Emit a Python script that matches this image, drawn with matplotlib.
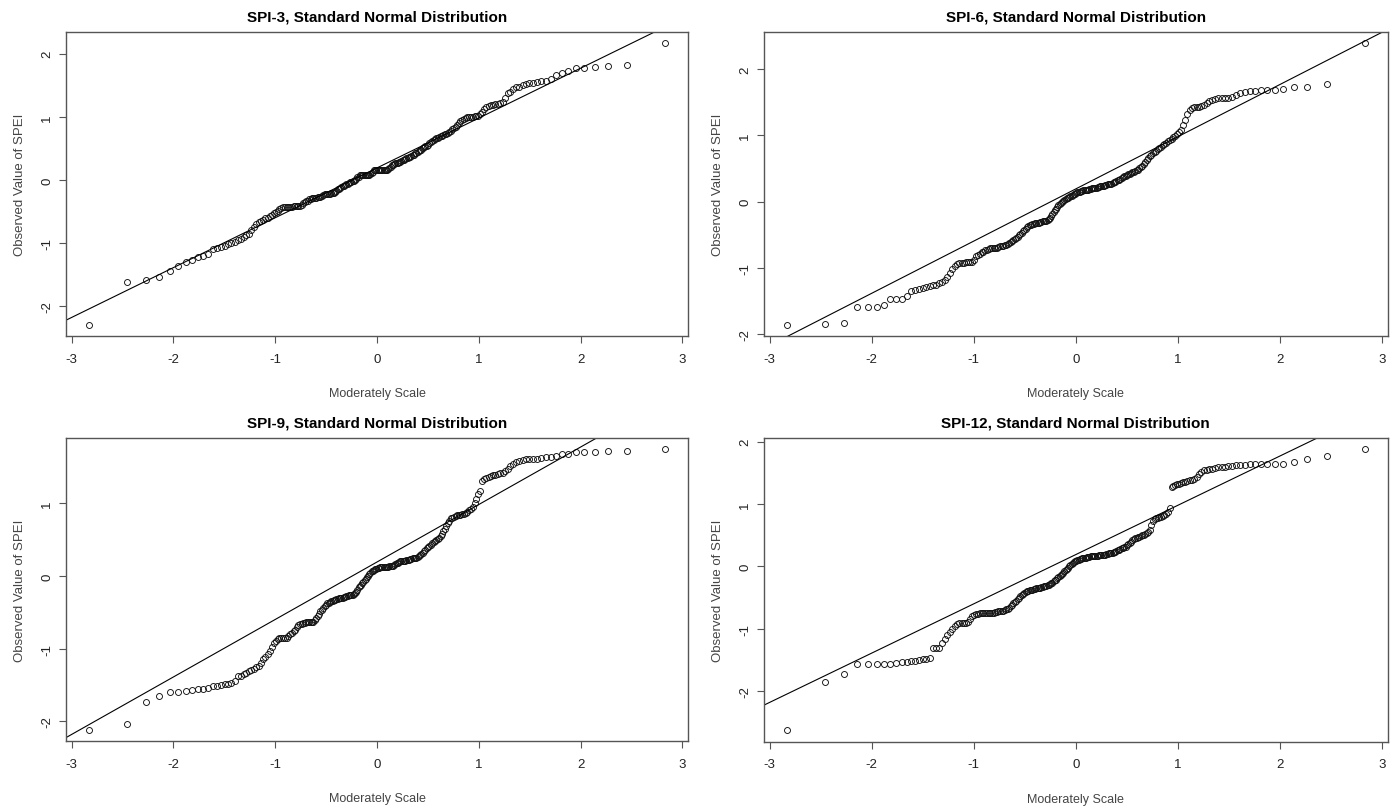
import matplotlib
matplotlib.use("Agg")
import matplotlib.pyplot as plt
import numpy as np
from statistics import NormalDist
import math

titles = ["SPI-3, Standard Normal Distribution", "SPI-6, Standard Normal Distribution",
          "SPI-9, Standard Normal Distribution", "SPI-12, Standard Normal Distribution"]
x_label = "Moderately Scale"
y_label = "Observed Value of SPEI"
x_ticks = [-3, -2, -1, 0, 1, 2, 3]

spi3 = [
    -2.30, -1.62, -1.59, -1.54, -1.45, -1.36, -1.30, -1.27, -1.22, -1.20,
    -1.17, -1.09, -1.08, -1.06, -1.04, -1.02, -1.00, -0.98, -0.96, -0.93,
    -0.90, -0.87, -0.85, -0.80, -0.74, -0.70, -0.67, -0.65, -0.63, -0.61,
    -0.60, -0.58, -0.55, -0.53, -0.51, -0.49, -0.46, -0.44, -0.43, -0.43,
    -0.43, -0.43, -0.43, -0.43, -0.42, -0.42, -0.42, -0.42, -0.42, -0.40,
    -0.37, -0.35, -0.34, -0.33, -0.31, -0.30, -0.29, -0.28, -0.28, -0.28,
    -0.27, -0.27, -0.27, -0.26, -0.24, -0.23, -0.22, -0.22, -0.22, -0.22,
    -0.21, -0.21, -0.20, -0.19, -0.17, -0.15, -0.14, -0.13, -0.12, -0.10,
    -0.09, -0.08, -0.07, -0.06, -0.05, -0.04, -0.03, -0.02, -0.01, 0.00,
    0.02, 0.04, 0.05, 0.07, 0.08, 0.08, 0.08, 0.08, 0.08, 0.08,
    0.08, 0.08, 0.09, 0.11, 0.13, 0.15, 0.15, 0.15, 0.15, 0.15,
    0.15, 0.15, 0.16, 0.16, 0.16, 0.16, 0.16, 0.17, 0.19, 0.21,
    0.23, 0.24, 0.25, 0.26, 0.27, 0.27, 0.28, 0.29, 0.30, 0.31,
    0.32, 0.33, 0.34, 0.35, 0.36, 0.37, 0.38, 0.39, 0.40, 0.42,
    0.43, 0.44, 0.46, 0.47, 0.48, 0.50, 0.52, 0.53, 0.54, 0.56,
    0.58, 0.60, 0.62, 0.63, 0.65, 0.66, 0.67, 0.68, 0.69, 0.70,
    0.71, 0.72, 0.73, 0.74, 0.76, 0.78, 0.80, 0.82, 0.84, 0.87,
    0.90, 0.93, 0.95, 0.97, 0.98, 0.99, 0.99, 1.00, 1.00, 1.01,
    1.01, 1.02, 1.04, 1.08, 1.13, 1.15, 1.17, 1.18, 1.19, 1.20,
    1.21, 1.22, 1.24, 1.30, 1.37, 1.40, 1.44, 1.47, 1.48, 1.50,
    1.52, 1.53, 1.54, 1.55, 1.56, 1.57, 1.60, 1.66, 1.70, 1.73,
    1.77, 1.77, 1.79, 1.80, 1.82, 2.17,
]

spi6 = [
    -1.87, -1.85, -1.84, -1.59, -1.59, -1.59, -1.57, -1.48, -1.47, -1.47,
    -1.43, -1.35, -1.34, -1.33, -1.31, -1.29, -1.28, -1.27, -1.26, -1.24,
    -1.22, -1.19, -1.14, -1.08, -1.02, -0.98, -0.94, -0.93, -0.93, -0.93,
    -0.92, -0.92, -0.92, -0.91, -0.88, -0.83, -0.81, -0.79, -0.77, -0.76,
    -0.74, -0.73, -0.72, -0.71, -0.71, -0.71, -0.70, -0.70, -0.69, -0.68,
    -0.68, -0.67, -0.66, -0.66, -0.65, -0.63, -0.62, -0.60, -0.59, -0.57,
    -0.55, -0.53, -0.51, -0.49, -0.47, -0.45, -0.43, -0.41, -0.39, -0.37,
    -0.36, -0.35, -0.34, -0.34, -0.33, -0.33, -0.32, -0.32, -0.31, -0.31,
    -0.30, -0.30, -0.30, -0.29, -0.28, -0.27, -0.25, -0.22, -0.19, -0.16,
    -0.13, -0.11, -0.09, -0.06, -0.04, -0.02, 0.00, 0.01, 0.03, 0.04,
    0.05, 0.06, 0.07, 0.08, 0.09, 0.10, 0.11, 0.12, 0.13, 0.14,
    0.15, 0.15, 0.16, 0.16, 0.17, 0.17, 0.18, 0.18, 0.18, 0.19,
    0.19, 0.20, 0.20, 0.20, 0.21, 0.21, 0.22, 0.22, 0.23, 0.23,
    0.24, 0.24, 0.25, 0.25, 0.26, 0.26, 0.27, 0.27, 0.28, 0.29,
    0.30, 0.31, 0.32, 0.33, 0.34, 0.36, 0.37, 0.38, 0.39, 0.40,
    0.41, 0.42, 0.43, 0.44, 0.45, 0.46, 0.47, 0.48, 0.50, 0.52,
    0.54, 0.57, 0.60, 0.63, 0.66, 0.69, 0.71, 0.73, 0.75, 0.77,
    0.79, 0.81, 0.83, 0.85, 0.87, 0.89, 0.91, 0.93, 0.95, 0.97,
    0.99, 1.02, 1.05, 1.09, 1.16, 1.24, 1.32, 1.38, 1.42, 1.43,
    1.43, 1.43, 1.44, 1.46, 1.49, 1.52, 1.54, 1.55, 1.56, 1.56,
    1.57, 1.57, 1.58, 1.61, 1.64, 1.66, 1.67, 1.68, 1.69, 1.69,
    1.69, 1.70, 1.73, 1.74, 1.78, 2.40,
]

spi9 = [
    -2.12, -2.04, -1.74, -1.65, -1.60, -1.59, -1.58, -1.57, -1.56, -1.55,
    -1.54, -1.52, -1.51, -1.50, -1.49, -1.48, -1.47, -1.45, -1.38, -1.37,
    -1.35, -1.33, -1.31, -1.30, -1.28, -1.26, -1.24, -1.20, -1.15, -1.11,
    -1.07, -1.03, -0.98, -0.93, -0.89, -0.87, -0.86, -0.86, -0.86, -0.86,
    -0.85, -0.83, -0.80, -0.78, -0.76, -0.74, -0.70, -0.67, -0.66, -0.66,
    -0.65, -0.65, -0.64, -0.64, -0.64, -0.64, -0.64, -0.63, -0.61, -0.58,
    -0.55, -0.52, -0.49, -0.47, -0.44, -0.42, -0.40, -0.38, -0.37, -0.36,
    -0.35, -0.34, -0.33, -0.33, -0.32, -0.32, -0.31, -0.31, -0.30, -0.30,
    -0.29, -0.29, -0.28, -0.28, -0.27, -0.27, -0.26, -0.26, -0.25, -0.24,
    -0.22, -0.19, -0.16, -0.14, -0.12, -0.10, -0.08, -0.06, -0.04, -0.02,
    0.00, 0.02, 0.04, 0.06, 0.07, 0.08, 0.09, 0.10, 0.11, 0.11,
    0.12, 0.12, 0.12, 0.12, 0.12, 0.12, 0.12, 0.12, 0.13, 0.13,
    0.13, 0.14, 0.15, 0.16, 0.17, 0.18, 0.19, 0.20, 0.20, 0.21,
    0.21, 0.21, 0.22, 0.22, 0.22, 0.23, 0.23, 0.24, 0.24, 0.25,
    0.25, 0.26, 0.27, 0.28, 0.30, 0.32, 0.34, 0.36, 0.38, 0.39,
    0.41, 0.43, 0.45, 0.47, 0.48, 0.49, 0.50, 0.52, 0.55, 0.58,
    0.61, 0.64, 0.68, 0.72, 0.76, 0.79, 0.80, 0.81, 0.82, 0.83,
    0.84, 0.84, 0.85, 0.85, 0.86, 0.88, 0.90, 0.92, 0.95, 1.00,
    1.06, 1.12, 1.16, 1.31, 1.33, 1.35, 1.36, 1.37, 1.38, 1.39,
    1.40, 1.41, 1.42, 1.44, 1.47, 1.51, 1.54, 1.56, 1.58, 1.59,
    1.60, 1.60, 1.61, 1.61, 1.62, 1.63, 1.64, 1.65, 1.67, 1.68,
    1.70, 1.70, 1.70, 1.71, 1.71, 1.74,
]

spi12 = [
    -2.63, -1.86, -1.73, -1.57, -1.57, -1.57, -1.57, -1.57, -1.55, -1.54,
    -1.53, -1.52, -1.51, -1.50, -1.49, -1.48, -1.46, -1.31, -1.31, -1.30,
    -1.23, -1.17, -1.10, -1.05, -1.00, -0.95, -0.92, -0.91, -0.91, -0.91,
    -0.90, -0.89, -0.85, -0.80, -0.78, -0.76, -0.76, -0.75, -0.75, -0.75,
    -0.75, -0.74, -0.74, -0.74, -0.74, -0.74, -0.73, -0.73, -0.72, -0.72,
    -0.71, -0.71, -0.70, -0.69, -0.68, -0.66, -0.63, -0.61, -0.59, -0.57,
    -0.55, -0.52, -0.50, -0.48, -0.46, -0.44, -0.42, -0.41, -0.40, -0.39,
    -0.38, -0.37, -0.37, -0.36, -0.36, -0.35, -0.35, -0.34, -0.34, -0.33,
    -0.33, -0.32, -0.32, -0.31, -0.30, -0.29, -0.28, -0.27, -0.26, -0.24,
    -0.22, -0.21, -0.19, -0.17, -0.16, -0.14, -0.12, -0.10, -0.08, -0.06,
    -0.04, -0.02, 0.00, 0.02, 0.04, 0.06, 0.07, 0.08, 0.09, 0.10,
    0.11, 0.12, 0.12, 0.13, 0.13, 0.14, 0.14, 0.15, 0.15, 0.15,
    0.16, 0.16, 0.16, 0.17, 0.17, 0.17, 0.17, 0.18, 0.18, 0.18,
    0.19, 0.19, 0.19, 0.20, 0.20, 0.21, 0.21, 0.22, 0.22, 0.23,
    0.24, 0.25, 0.26, 0.27, 0.28, 0.29, 0.30, 0.31, 0.32, 0.34,
    0.36, 0.38, 0.40, 0.42, 0.44, 0.45, 0.46, 0.47, 0.48, 0.49,
    0.50, 0.51, 0.52, 0.53, 0.55, 0.58, 0.66, 0.73, 0.76, 0.77,
    0.78, 0.79, 0.80, 0.81, 0.82, 0.84, 0.88, 0.93, 1.27, 1.29,
    1.31, 1.32, 1.33, 1.34, 1.35, 1.36, 1.37, 1.38, 1.39, 1.41,
    1.44, 1.48, 1.52, 1.54, 1.55, 1.56, 1.57, 1.58, 1.59, 1.60,
    1.60, 1.61, 1.61, 1.62, 1.63, 1.63, 1.64, 1.64, 1.64, 1.64,
    1.64, 1.65, 1.68, 1.72, 1.77, 1.88,
]

# reference line drawn in every panel (same line in all four)
ref_intercept = 0.19
ref_slope = 0.79

series = [spi3, spi6, spi9, spi12]

# ---------------- style ----------------
plt.rcParams["font.family"] = ["Liberation Sans Narrow", "Liberation Sans", "DejaVu Sans"]
W, H = 1392, 812
fig = plt.figure(figsize=(W / 100, H / 100), dpi=100)
fig.patch.set_facecolor("white")

# axes boxes in pixels: left, top, right, bottom
boxes = [(65.7, 32.7, 688.3, 337.3), (763.7, 32.7, 1387.7, 337.3),
         (65.7, 439.0, 688.3, 742.3), (763.7, 439.0, 1387.7, 742.7)]

text_col = "#222222"
label_col = "#444444"
frame_col = "#555555"


def ppoints_theoretical(n):
    a = 0.375 if n <= 10 else 0.5
    nd = NormalDist()
    return np.array([nd.inv_cdf((i + 1 - a) / (n + 1 - 2 * a)) for i in range(n)])


def r_range(lo, hi):
    span = hi - lo
    return lo - 0.04 * span, hi + 0.04 * span


for vals, title, (l, t, r, b) in zip(series, titles, boxes):
    ax = fig.add_axes([l / W, 1 - b / H, (r - l) / W, (b - t) / H])
    y = np.sort(np.asarray(vals, dtype=float))
    x = ppoints_theoretical(len(y))
    ax.plot(x, y, linestyle="none", marker="o", markersize=4.3,
            markerfacecolor="none", markeredgecolor="#111111", markeredgewidth=0.65)
    xlo, xhi = r_range(x.min(), x.max())
    ylo, yhi = r_range(y.min(), y.max())
    ax.set_xlim(xlo, xhi)
    ax.set_ylim(ylo, yhi)
    ax.axline((0, ref_intercept), slope=ref_slope, color="black", linewidth=0.8)

    ax.set_xticks(x_ticks)
    ax.set_xticklabels([str(v) for v in x_ticks])
    yt = list(range(math.ceil(ylo), math.floor(yhi) + 1))
    ax.set_yticks(yt)
    ax.set_yticklabels([str(v) for v in yt])

    ax.tick_params(axis="both", direction="out", length=5, width=0.8,
                   color=frame_col, labelcolor=text_col, labelsize=9.5)
    ax.tick_params(axis="x", pad=7)
    ax.tick_params(axis="y", pad=4, labelrotation=90)
    for lbl in ax.get_yticklabels():
        lbl.set_verticalalignment("center")

    for sp in ax.spines.values():
        sp.set_color(frame_col)
        sp.set_linewidth(1.0)

    ax.set_title(title, fontsize=11, fontweight="bold", color="black", pad=8)
    ax.set_xlabel(x_label, fontsize=9, color=label_col, labelpad=16)
    ax.set_ylabel(y_label, fontsize=9.5, color=label_col, labelpad=11)

fig.savefig("out.png", dpi=100, facecolor="white")
